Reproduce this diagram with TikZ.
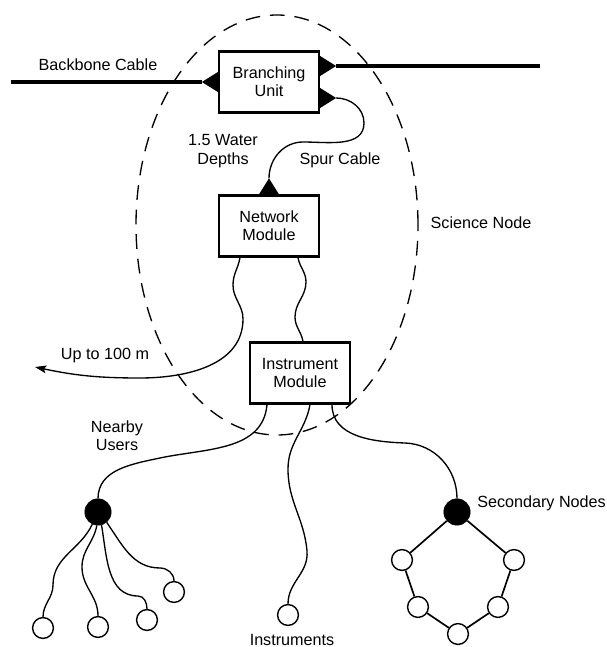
\documentclass[tikz,border=0pt]{standalone}
\usepackage{fontspec}
\setmainfont{Liberation Sans}
\usetikzlibrary{arrows.meta,calc,positioning}
\tikzset{
  modulo/.style={
    draw,
    line width=1.6pt,
    fill=white,
    align=center,
    minimum width=2.5cm,
    minimum height=1.525cm,
    inner sep=0pt
  },
  hub/.style={
    circle,
    draw=black,
    fill=black,
    minimum size=0.66cm,
    inner sep=0pt
  },
  sensor/.style={
    circle,
    draw=black,
    fill=white,
    line width=1pt,
    minimum size=0.52cm,
    inner sep=0pt
  },
  etiqueta/.style={
    align=center,
    inner sep=0pt
  },
  cable/.style={line width=0.95pt},
  troncal/.style={line width=2.2pt},
  enlace/.style={line width=1.2pt},
  limite/.style={dash pattern=on 10.5pt off 7pt, line width=0.95pt},
  conector/.pic={
    \fill (0,-10) -- (16,0) -- (0,10) -- cycle;
    \coordinate (-tip) at (16,0);
  }
}

\begin{document}
\begin{tikzpicture}[x=0.025cm, y=0.025cm, font=\fontsize{11.5}{13}\selectfont]
\useasboundingbox (0,0) rectangle (607,647);
% limite del nodo
\draw[limite] (277,422) ellipse [x radius=141, y radius=210];

% modulos
\node[modulo] (bu) at (269,565) {Branching\\Unit};
\node[modulo] (nm) at (269,421) {Network\\Module};
\node[modulo] (im) at (300,274) {Instrument\\Module};

\pic[rotate=180] (cl) at (bu.west) {conector};
\pic (cr) at ($(bu.east)+(0,16)$) {conector};
\pic (cs) at ($(bu.east)+(0,-16)$) {conector};
\pic[rotate=90] (cn) at (nm.north) {conector};

% cable troncal
\coordinate (bbl) at (11,565);
\coordinate (bbr) at (540,581);
\draw[troncal] (bbl) -- (cl-tip);
\draw[troncal] (cr-tip) -- (bbr);
\draw[cable] (cs-tip) to[out=0,in=90] (364,524) to[out=-90,in=0] (303,505) to[out=180,in=90] (cn-tip);

% nodos
\node[hub] (h1) at (98,135) {};
\node[hub] (h2) at (457,135) {};
\node[sensor] (u1) at (43,19) {};
\node[sensor] (u2) at (98,20) {};
\node[sensor] (u3) at (147,27) {};
\node[sensor] (u4) at (174,55) {};
\node[sensor] (i1) at (288,32) {};
\node[sensor] (r1) at (402,87) {};
\node[sensor] (r2) at (418,40) {};
\node[sensor] (r3) at (458,13) {};
\node[sensor] (r4) at (498,40) {};
\node[sensor] (r5) at (514,87) {};
\coordinate (lejos) at (35,280);

% cables
\draw[cable, -{Stealth[length=8pt, width=5.5pt, inset=1.5pt]}] ($(nm.south)+(-29,0)$) to[out=-100,in=90] (233,362) to[out=-90,in=90] (243,328) to[out=-90,in=0] (140,269) to[out=180,in=-12] (lejos);
\draw[cable] ($(nm.south)+(29,0)$) to[out=-80,in=90] (306,365) to[out=-90,in=90] (295,330) to[out=-90,in=100] ($(im.north)+(3,0)$);
\draw[cable] ($(im.south)+(-33,0)$) to[out=-95,in=12] (160,189) to[out=192,in=90] (h1.north);
\draw[cable] ($(im.south)+(10,0)$) to[out=-100,in=90] (288,178) to[out=-90,in=95] (307,96) to[out=-85,in=90] (i1.north);
\draw[cable] ($(im.south)+(32,0)$) to[out=-90,in=178] (405,204) to[out=-2,in=90] (h2.north);
\draw[cable] (h1.245) to[out=-115,in=90] (53,62) to[out=-90,in=90] (u1.north);
\draw[cable] (h1.265) to[out=-100,in=90] (82,80) to[out=-90,in=90] (u2.north);
\draw[cable] (h1.285) to[out=-80,in=180] (138,51) to[out=0,in=90] (u3.north);
\draw[cable] (h1.310) to[out=-55,in=180] (160,79) to[out=0,in=90] (u4.north);
\draw[enlace] (h2) -- (r1) -- (r2) -- (r3) -- (r4) -- (r5) -- (h2);

% textos
\node[etiqueta] (bbtxt) at (98,582) {Backbone Cable};
\node[etiqueta] (wd) at (223,496) {1.5 Water\\Depths};
\node[etiqueta] (spur) at (340,487) {Spur Cable};
\node[etiqueta] (sn) at (481,424) {Science Node};
\node[etiqueta] (up) at (105,291) {Up to 100 m};
\node[etiqueta] (nu) at (117,211) {Nearby\\Users};
\node[etiqueta, anchor=west] (sec) at (477,144) {Secondary Nodes};
\node[etiqueta, anchor=south] (ins) at (292,1) {Instruments};
\end{tikzpicture}
\end{document}
